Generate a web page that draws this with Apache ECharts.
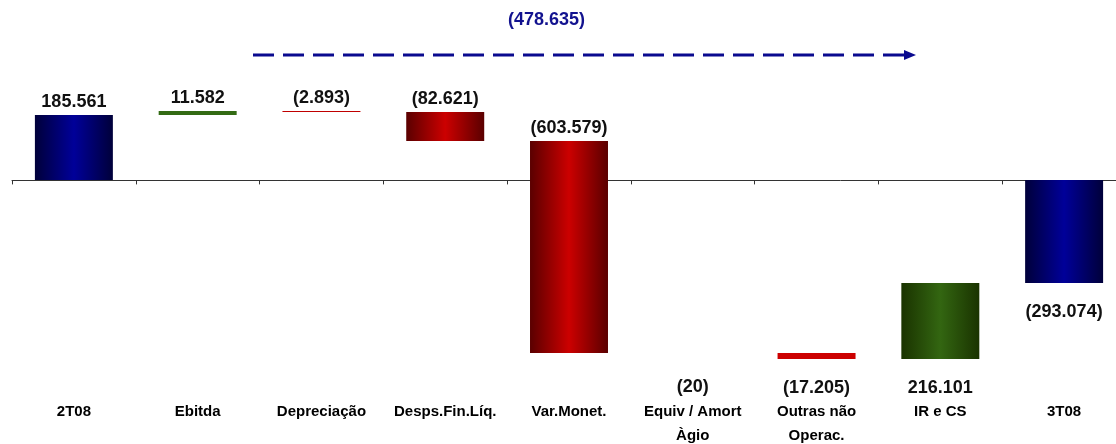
<!DOCTYPE html>
<html>
<head>
<meta charset="utf-8">
<script src="https://cdn.jsdelivr.net/npm/echarts@6/dist/echarts.min.js"></script>
<style>
  html, body { margin: 0; padding: 0; background: #fff; }
  #chart { width: 1116px; height: 444px; }
</style>
</head>
<body>
<div id="chart"></div>
<script>
// categorias do eixo
var categories = ['2T08', 'Ebitda', 'Depreciação', 'Desps.Fin.Líq.', 'Var.Monet.', 'Equiv / Amort\nÀgio', 'Outras não\nOperac.', 'IR e CS', '3T08'];
// valores (R$ mil) - total no início e no fim, variações no meio
var values = [185561, 11582, -2893, -82621, -603579, -20, -17205, 216101, -293074];
var isTotal = [true, false, false, false, false, false, false, false, true];
// onde fica o rótulo de cada barra
var labelSide = ['top', 'top', 'top', 'top', 'top', 'bottom', 'bottom', 'bottom', 'bottom'];

// formato brasileiro: 185.561 e negativos entre parênteses
function fmt(v) {
  var s = Math.abs(v).toString().replace(/\B(?=(\d{3})+(?!\d))/g, '.');
  return v < 0 ? '(' + s + ')' : s;
}

// monta os degraus da cascata [indice, base, topo, valor]
var steps = [];
var running = 0;
values.forEach(function (v, i) {
  var lo, hi;
  if (isTotal[i]) {
    lo = Math.min(0, v); hi = Math.max(0, v);
    running = v;
  } else {
    lo = Math.min(running, running + v); hi = Math.max(running, running + v);
    running += v;
  }
  steps.push([i, lo, hi, v]);
});
var variacao = values[values.length - 1] - values[0]; // (478.635)

function grad(edge, mid) {
  return new echarts.graphic.LinearGradient(0, 0, 1, 0, [
    { offset: 0, color: edge },
    { offset: 0.5, color: mid },
    { offset: 1, color: edge }
  ]);
}

var chart = echarts.init(document.getElementById('chart'));

var labelFont = {
  interval: 0,
  verticalAlign: 'top',
  color: '#000',
  fontFamily: 'Liberation Sans, Arial, sans-serif',
  fontWeight: 'bold',
  fontSize: 15,
  lineHeight: 24
};

var option = {
  animation: false,
  backgroundColor: '#fff',
  grid: { left: 12, width: 1114, top: 40, height: 358, containLabel: false, outerBoundsMode: 'none' },
  xAxis: [{
    type: 'category',
    data: categories,
    axisLine: { onZero: true, lineStyle: { color: '#333', width: 1 } },
    axisTick: { show: true, length: 4, lineStyle: { color: '#333' } },
    axisLabel: { show: false }
  }, {
    // só os nomes, embaixo do gráfico
    type: 'category',
    position: 'bottom',
    data: categories,
    axisLine: { show: false, onZero: false },
    axisTick: { show: false },
    axisLabel: Object.assign({ margin: 2 }, labelFont)
  }],
  yAxis: {
    type: 'value',
    min: -620000,
    max: 400000,
    show: false,
    splitLine: { show: false }
  },
  series: [{
    type: 'custom',
    data: steps,
    renderItem: function (params, api) {
      var i = api.value(0);
      var v = api.value(3);
      var pTop = api.coord([i, api.value(2)]);
      var pBot = api.coord([i, api.value(1)]);
      var w = api.size([1, 0])[0] * 0.63;
      var h = Math.round(pBot[1] - pTop[1]);
      var x = pTop[0] - w / 2;
      var y = Math.round(pTop[1]);
      var fill;
      if (isTotal[i]) fill = grad('#00003a', '#000099');
      else if (v > 0) fill = h < 8 ? '#336b14' : grad('#1a3300', '#336611');
      else fill = h < 8 ? (h < 2 ? '#c00000' : '#cc0000') : grad('#5a0000', '#cc0000');
      var children = [];
      if (h >= 1) {
        children.push({
          type: 'rect',
          shape: { x: x, y: y, width: w, height: h },
          style: { fill: fill }
        });
      }
      var side = labelSide[i];
      children.push({
        type: 'text',
        style: {
          text: fmt(v),
          x: pTop[0],
          y: side === 'top' ? y - 4 : y + Math.max(h, 5) + 20,
          align: 'center',
          verticalAlign: side === 'top' ? 'bottom' : 'top',
          fill: '#111',
          font: 'bold 18px "Liberation Sans", Arial, sans-serif'
        }
      });
      return { type: 'group', children: children };
    }
  }],
  graphic: [
    {
      type: 'text',
      left: 508, top: 11,
      style: {
        text: fmt(variacao),
        fill: '#12128f',
        font: 'bold 18px "Liberation Sans", Arial, sans-serif'
      }
    },
    {
      type: 'line',
      shape: { x1: 253, y1: 55, x2: 906, y2: 55 },
      style: { stroke: '#0a0a8f', lineWidth: 3, lineDash: [21, 9] }
    },
    {
      type: 'polygon',
      shape: { points: [[904, 50], [916, 55], [904, 60]] },
      style: { fill: '#0a0a8f' }
    }
  ]
};

chart.setOption(option);
</script>
</body>
</html>
